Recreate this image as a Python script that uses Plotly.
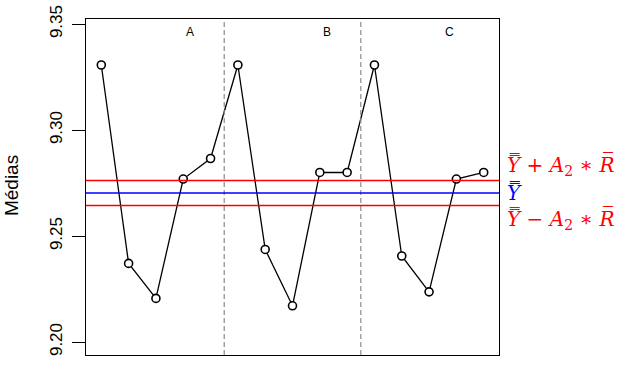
import plotly.graph_objects as go

# ---- data ----
groups = ["A", "B", "C"]
group_size = 5
medias = [9.3307, 9.2371, 9.2206, 9.2769, 9.2866,
          9.3307, 9.2437, 9.2171, 9.2800, 9.2800,
          9.3307, 9.2406, 9.2237, 9.2769, 9.2800]
center_line = 9.2703
upper_line = 9.2762
lower_line = 9.2644
group_label_x = [4.25, 9.25, 13.75]
y_ticks = [9.20, 9.25, 9.30, 9.35]
y_ticktext = ["9.20", "9.25", "9.30", "9.35"]

idx = list(range(1, len(medias) + 1))
xr = [1 - 0.04 * (len(medias) - 1), len(medias) + 0.04 * (len(medias) - 1)]
yr = [9.1939, 9.3524]

fig = go.Figure()
fig.add_trace(go.Scatter(
    x=idx, y=medias, mode="lines+markers",
    line=dict(color="black", width=1.3),
    marker=dict(symbol="circle", size=8, color="white",
                line=dict(color="black", width=1.6)),
    showlegend=False, hoverinfo="skip"))

shapes = []
for k in range(1, len(groups)):
    xb = k * group_size + 0.5
    shapes.append(dict(type="line", xref="x", yref="paper", x0=xb, x1=xb, y0=0, y1=1,
                       line=dict(color="#8c8c8c", width=1.2, dash="5px,3px"), layer="above"))
for val, col in [(upper_line, "red"), (center_line, "blue"), (lower_line, "red")]:
    shapes.append(dict(type="line", xref="paper", yref="y", x0=0, x1=1, y0=val, y1=val,
                       line=dict(color=col, width=1.5), layer="above"))

annotations = []
for g, gx in zip(groups, group_label_x):
    annotations.append(dict(x=gx, y=9.3465, xref="x", yref="y", text=g, showarrow=False,
                            font=dict(family="Liberation Sans", size=12, color="black"),
                            xanchor="center", yanchor="middle"))

mfont = "DejaVu Serif"
lab_up = "<i>Y\u033F</i> + <i>A</i><sub>2</sub> \u2217 <i>R\u0305</i>"
lab_mid = "<i>Y\u033F</i>"
lab_lo = "<i>Y\u033F</i> \u2212 <i>A</i><sub>2</sub> \u2217 <i>R\u0305</i>"
for val, txt, col, ys in [(upper_line, lab_up, "red", 15),
                          (center_line, lab_mid, "blue", 0),
                          (lower_line, lab_lo, "red", -14)]:
    annotations.append(dict(x=1.015, y=val, xref="paper", yref="y", text=txt,
                            showarrow=False, xanchor="left", yanchor="middle", yshift=ys,
                            font=dict(family=mfont, size=20, color=col)))

annotations.append(dict(x=-0.179, y=0.503, xref="paper", yref="paper", text="Médias",
                        textangle=-90, showarrow=False, xanchor="center", yanchor="middle",
                        font=dict(family="Liberation Sans", size=19, color="black")))

fig.update_layout(
    width=620, height=369,
    margin=dict(l=86, r=121, t=19, b=14, autoexpand=False),
    paper_bgcolor="white", plot_bgcolor="white",
    shapes=shapes, annotations=annotations,
    xaxis=dict(range=xr, showgrid=False, zeroline=False, showticklabels=False,
               ticks="", showline=True, mirror=True, linecolor="black", linewidth=1.3,
               automargin=False),
    yaxis=dict(range=yr, showgrid=False, zeroline=False,
               tickvals=y_ticks, ticktext=y_ticktext, tickangle=-90,
               ticks="outside", ticklen=13, tickwidth=1.3, tickcolor="black",
               ticklabelstandoff=3, automargin=False,
               tickfont=dict(family="Liberation Sans", size=17, color="black"),
               showline=True, mirror=True, linecolor="black", linewidth=1.3),
)

fig.write_html("out.html")
